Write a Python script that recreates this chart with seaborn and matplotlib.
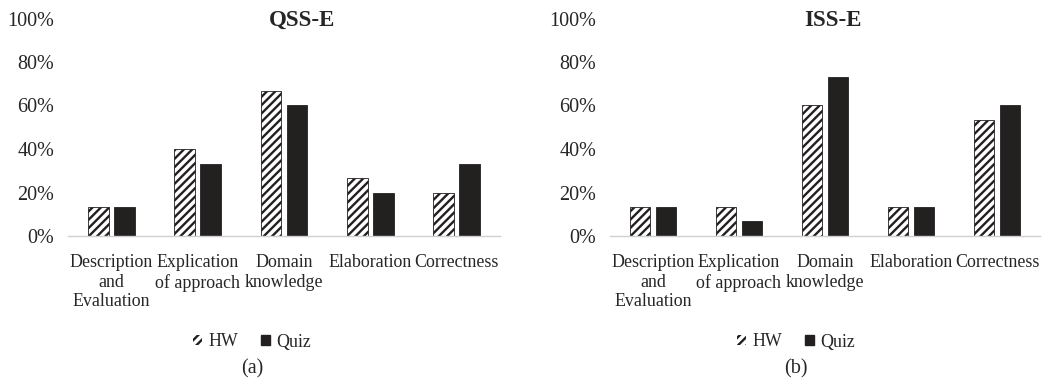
import matplotlib
matplotlib.use("Agg")
import matplotlib.pyplot as plt
import seaborn as sns
import pandas as pd
from matplotlib.patches import Patch
from matplotlib.ticker import FuncFormatter

# Rubric categories (x-axis tick labels)
categories = [
    "Description\nand\nEvaluation",
    "Explication\nof approach",
    "Domain\nknowledge",
    "Elaboration",
    "Correctness",
]
series = ["HW", "Quiz"]

# Share of submissions (%) per category
qss_hw = [13.3, 40.0, 66.7, 26.7, 20.0]
qss_quiz = [13.3, 33.3, 60.0, 20.0, 33.3]
iss_hw = [13.3, 13.3, 60.0, 13.3, 53.3]
iss_quiz = [13.3, 6.7, 73.3, 13.3, 60.0]

titles = ["QSS-E", "ISS-E"]
captions = ["(a)", "(b)"]
yticks = [0, 20, 40, 60, 80, 100]

sns.set_theme(style="white")
plt.rcParams["font.family"] = ["Liberation Serif", "DejaVu Serif"]
plt.rcParams["hatch.linewidth"] = 1.7
plt.rcParams["hatch.color"] = "#231f20"

INK = "#231f20"
TEXT = "#262626"
HATCH = "////"

W, H = 1064, 392
fig = plt.figure(figsize=(W / 100, H / 100), dpi=100)

panels = [
    dict(hw=qss_hw, quiz=qss_quiz, rect=(68, 236, 432, 217.5), title_dx=18, legend_x=252),
    dict(hw=iss_hw, quiz=iss_quiz, rect=(610, 236, 430, 217.5), title_dx=8, legend_x=796),
]


def frame(hw, quiz):
    rows = []
    for cat, h, q in zip(categories, hw, quiz):
        rows.append({"Category": cat, "Type": series[0], "Value": h})
        rows.append({"Category": cat, "Type": series[1], "Value": q})
    return pd.DataFrame(rows)


for i, p in enumerate(panels):
    x0, ybot, w, h = p["rect"]
    ax = fig.add_axes([x0 / W, 1 - ybot / H, w / W, h / H])
    df = frame(p["hw"], p["quiz"])
    sns.barplot(
        data=df, x="Category", y="Value", hue="Type", hue_order=series,
        order=categories, palette=["white", INK], width=0.6, gap=0.2,
        edgecolor=INK, linewidth=0.6, legend=False, ax=ax,
    )
    for bar in ax.containers[0]:
        bar.set_hatch(HATCH)
        bar.set_facecolor("white")
        bar.set_edgecolor(INK)

    ax.set_ylim(0, 100)
    ax.set_yticks(yticks)
    ax.yaxis.set_major_formatter(FuncFormatter(lambda v, _: f"{v:.0f}%"))
    ax.set_xlabel("")
    ax.set_ylabel("")
    ax.tick_params(axis="y", length=0, pad=10, labelsize=14.5, labelcolor=TEXT)
    ax.tick_params(axis="x", length=0, pad=13, labelsize=12.9, labelcolor=TEXT)
    for lbl in ax.get_xticklabels():
        lbl.set_linespacing(1.2)
        lbl.set_va("top")
    for side in ["left", "right", "top"]:
        ax.spines[side].set_visible(False)
    ax.spines["bottom"].set_color("#d0d0d0")
    ax.spines["bottom"].set_linewidth(1.0)
    ax.set_xlim(-0.5, len(categories) - 0.5)

    cx = (x0 + w / 2 + p["title_dx"]) / W
    fig.text(cx, 1 - 20 / H, titles[i], ha="center", va="center",
             fontsize=16.5, fontweight="bold", color=TEXT)

    handles = [
        Patch(facecolor="white", edgecolor=INK, linewidth=0, hatch=HATCH),
        Patch(facecolor=INK, edgecolor=INK),
    ]
    fig.legend(handles, series, loc="center", ncol=2,
               bbox_to_anchor=(p["legend_x"] / W, 1 - 342 / H),
               frameon=False, fontsize=12.9, handlelength=0.5, handleheight=0.5,
               handletextpad=0.35, columnspacing=1.3, labelcolor=TEXT)
    fig.text(p["legend_x"] / W, 1 - 369 / H, captions[i], ha="center", va="center",
             fontsize=14.5, color=TEXT)

fig.savefig("out.png", dpi=100, facecolor="white")
